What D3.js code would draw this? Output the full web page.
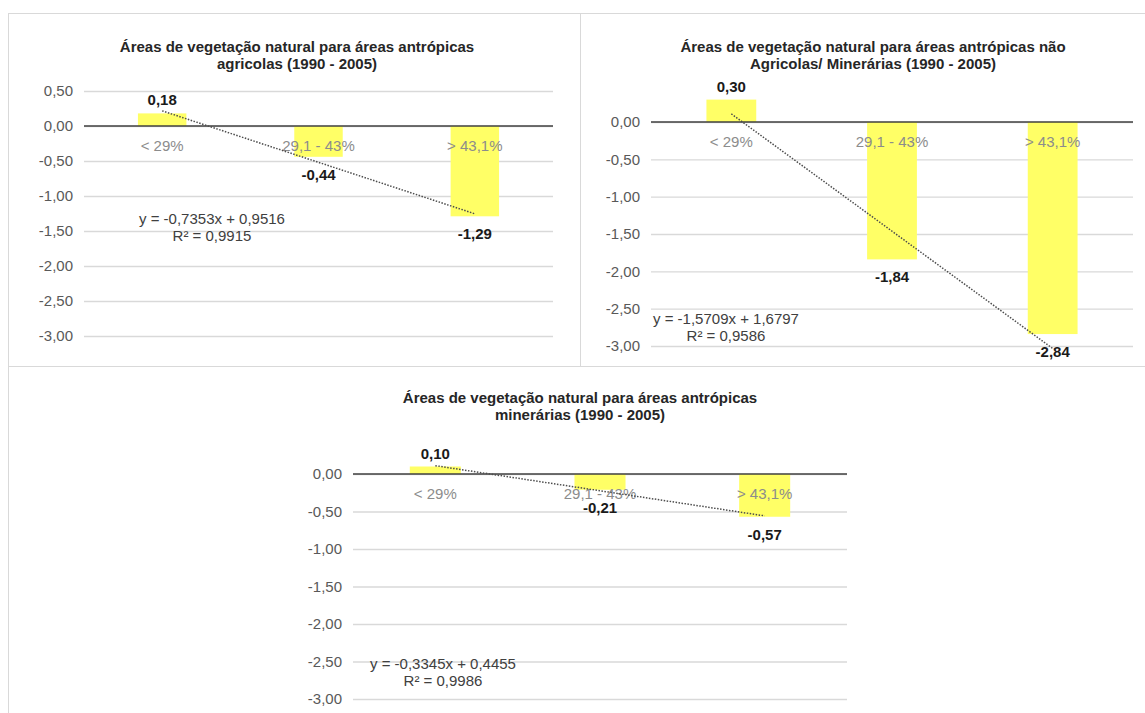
<!DOCTYPE html>
<html>
<head>
<meta charset="utf-8">
<script src="https://cdn.jsdelivr.net/npm/d3@7"></script>
<style>
  html, body { margin: 0; padding: 0; background: #fff; }
  svg { display: block; font-family: "Liberation Sans", Arial, sans-serif; }
</style>
</head>
<body>
<svg id="chart" width="1145" height="713"></svg>
<script>
// ---- Data ----
const categories = ["< 29%", "29,1 - 43%", "> 43,1%"];

const titleAgricolas = ["Áreas de vegetação natural para áreas antrópicas", "agricolas (1990 - 2005)"];
const titleNaoAgricolas = ["Áreas de vegetação natural para áreas antrópicas não", "Agricolas/ Minerárias (1990 - 2005)"];
const titleMinerarias = ["Áreas de vegetação natural para áreas antrópicas", "minerárias (1990 - 2005)"];

const valuesAgricolas = [0.18, -0.44, -1.29];
const valuesNaoAgricolas = [0.30, -1.84, -2.84];
const valuesMinerarias = [0.10, -0.21, -0.57];

const trendAgricolas = [-0.7353, 0.9516];      // slope, intercept
const trendNaoAgricolas = [-1.5709, 1.6797];
const trendMinerarias = [-0.3345, 0.4455];

const r2Agricolas = "0,9915";
const r2NaoAgricolas = "0,9586";
const r2Minerarias = "0,9986";

const ticksAgricolas = [0.5, 0, -0.5, -1, -1.5, -2, -2.5, -3];
const ticksOthers = [0, -0.5, -1, -1.5, -2, -2.5, -3];

// ---- Helpers ----
const svg = d3.select("#chart");
const fmt2 = v => d3.format(".2f")(v).replace("−", "-").replace(".", ",");
const fmt4 = v => d3.format(".4f")(Math.abs(v)).replace(".", ",");
const FS = 15;

// panel borders
const borderColor = "#d9d9d9";
svg.append("line").attr("x1", 8).attr("x2", 1145).attr("y1", 13.5).attr("y2", 13.5).attr("stroke", borderColor);
svg.append("line").attr("x1", 8).attr("x2", 1145).attr("y1", 366.5).attr("y2", 366.5).attr("stroke", borderColor);
svg.append("line").attr("x1", 8.5).attr("x2", 8.5).attr("y1", 13).attr("y2", 713).attr("stroke", borderColor);
svg.append("line").attr("x1", 580.5).attr("x2", 580.5).attr("y1", 13).attr("y2", 366).attr("stroke", borderColor);

function drawChart(cfg) {
  const g = svg.append("g");
  const x = d3.scaleBand().domain(categories).range([cfg.left, cfg.right]).paddingInner(0.69).paddingOuter(0.345);
  const y = d3.scaleLinear().domain([cfg.ticks[0], -3]).range([cfg.top, cfg.bottom]);

  // title
  const t = g.append("text").attr("x", cfg.titleX).attr("y", cfg.titleY)
    .attr("text-anchor", "middle").attr("font-size", FS).attr("font-weight", "bold").attr("fill", "#262626");
  cfg.title.forEach((line, i) => t.append("tspan").attr("x", cfg.titleX).attr("dy", i === 0 ? 0 : 17).text(line));

  // gridlines + tick labels via axis
  const axis = d3.axisLeft(y).tickValues(cfg.ticks).tickSize(-(cfg.right - cfg.left)).tickPadding(11).tickFormat(fmt2);
  const ax = g.append("g").attr("transform", `translate(${cfg.left},0)`).call(axis);
  ax.select(".domain").remove();
  ax.selectAll(".tick line").attr("stroke", "#d9d9d9").attr("stroke-width", 1.3);
  ax.selectAll(".tick text").attr("font-size", FS).attr("fill", "#595959")
    .attr("font-family", "Liberation Sans, Arial, sans-serif");

  // bars
  g.selectAll("rect.bar").data(cfg.values).enter().append("rect")
    .attr("x", (d, i) => x(categories[i]))
    .attr("width", x.bandwidth())
    .attr("y", d => y(Math.max(0, d)))
    .attr("height", d => Math.abs(y(d) - y(0)))
    .attr("fill", "#ffff66");

  // zero line
  g.append("line").attr("x1", cfg.left).attr("x2", cfg.right).attr("y1", y(0)).attr("y2", y(0))
    .attr("stroke", "#404040").attr("stroke-width", 1.5);

  // category labels
  g.selectAll("text.cat").data(categories).enter().append("text")
    .attr("x", d => x(d) + x.bandwidth() / 2)
    .attr("y", y(0) + 25)
    .attr("text-anchor", "middle").attr("font-size", FS).attr("fill", "#8c8c8c")
    .text(d => d);

  // trend line
  const cx = i => x(categories[i]) + x.bandwidth() / 2;
  const tv = i => cfg.trend[0] * (i + 1) + cfg.trend[1];
  g.append("line").attr("x1", cx(0)).attr("y1", y(tv(0))).attr("x2", cx(2)).attr("y2", y(tv(2)))
    .attr("stroke", "#4d4d4d").attr("stroke-width", 1.5).attr("stroke-dasharray", "1.5,1.5");

  // data labels
  g.selectAll("text.val").data(cfg.values).enter().append("text")
    .attr("x", (d, i) => cx(i))
    .attr("y", d => d >= 0 ? y(d) - 8 : y(d) + 23)
    .attr("text-anchor", "middle").attr("font-size", FS).attr("font-weight", "bold").attr("fill", "#1a1a1a")
    .text(d => fmt2(d));

  // equation
  const eq = `y = -${fmt4(cfg.trend[0])}x + ${fmt4(cfg.trend[1])}`;
  g.append("text").attr("x", cfg.eqX).attr("y", cfg.eqY).attr("text-anchor", "middle")
    .attr("font-size", FS).attr("fill", "#404040").text(eq);
  g.append("text").attr("x", cfg.eqX).attr("y", cfg.eqY + 17).attr("text-anchor", "middle")
    .attr("font-size", FS).attr("fill", "#404040").text(`R² = ${cfg.r2}`);
}

drawChart({ title: titleAgricolas, values: valuesAgricolas, trend: trendAgricolas, r2: r2Agricolas,
  ticks: ticksAgricolas, left: 84, right: 553, top: 91, bottom: 336, titleX: 297, titleY: 52, eqX: 212, eqY: 224 });

drawChart({ title: titleNaoAgricolas, values: valuesNaoAgricolas, trend: trendNaoAgricolas, r2: r2NaoAgricolas,
  ticks: ticksOthers, left: 651, right: 1133, top: 122, bottom: 346, titleX: 873, titleY: 52, eqX: 726, eqY: 324 });

drawChart({ title: titleMinerarias, values: valuesMinerarias, trend: trendMinerarias, r2: r2Minerarias,
  ticks: ticksOthers, left: 353, right: 847, top: 474, bottom: 699, titleX: 580, titleY: 403, eqX: 443, eqY: 669 });
</script>
</body>
</html>
